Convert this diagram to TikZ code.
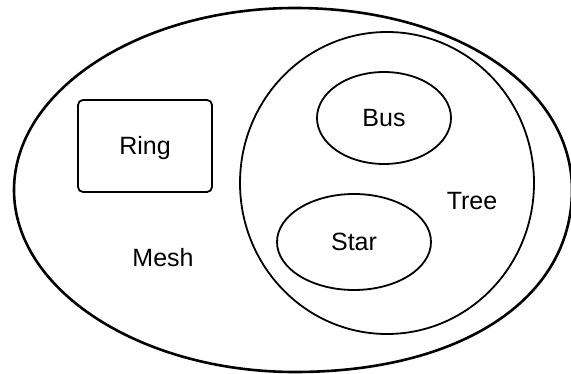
\documentclass[tikz,border=0pt]{standalone}
\usepackage{fontspec}
\setmainfont{Liberation Sans}
\usetikzlibrary{shapes.geometric}
\begin{document}
\begin{tikzpicture}[x=1pt,y=-1pt,
  label text/.style={font=\fontsize{25}{30}\selectfont, text height=18pt, text depth=0pt, inner sep=0pt},
  outline/.style={draw=black, line width=1.8pt},
  setbox/.style={outline, rectangle, rounded corners=5pt, inner sep=0pt},
  setoval/.style={outline, ellipse, inner sep=0pt}]
  \useasboundingbox (0,0) rectangle (571,374);

  % outer set: Mesh (an oval, a little fuller at the lower right)
  \coordinate (mtop) at (295,8);
  \coordinate (mleft) at (14,190);
  \coordinate (mbottom) at (295,372);
  \coordinate (mright) at (572,190);
  \draw[line width=2.6pt]
    (mtop) .. controls (141.5,8) and (14,89.5) .. (mleft)
           .. controls (14,290.5) and (141.5,372) .. (mbottom)
           .. controls (461,372) and (572,299) .. (mright)
           .. controls (572,86) and (453,8) .. (mtop) -- cycle;
  \node[label text, anchor=base] (mesh) at (163,267) {Mesh};

  % Ring inside Mesh
  \node[setbox, label text, minimum width=134pt, minimum height=92pt] (ring) at (145,146) {Ring};

  % Tree circle with Bus and Star inside
  \node[setoval, minimum width=294pt, minimum height=302pt] (tree) at (387,183) {};
  \node[label text, anchor=base] (treelabel) at (472,210) {Tree};
  \node[setoval, label text, minimum width=134pt, minimum height=92pt] (bus) at (384,118) {Bus};
  \node[setoval, label text, minimum width=154pt, minimum height=96pt] (star) at (354,242) {Star};
\end{tikzpicture}
\end{document}
